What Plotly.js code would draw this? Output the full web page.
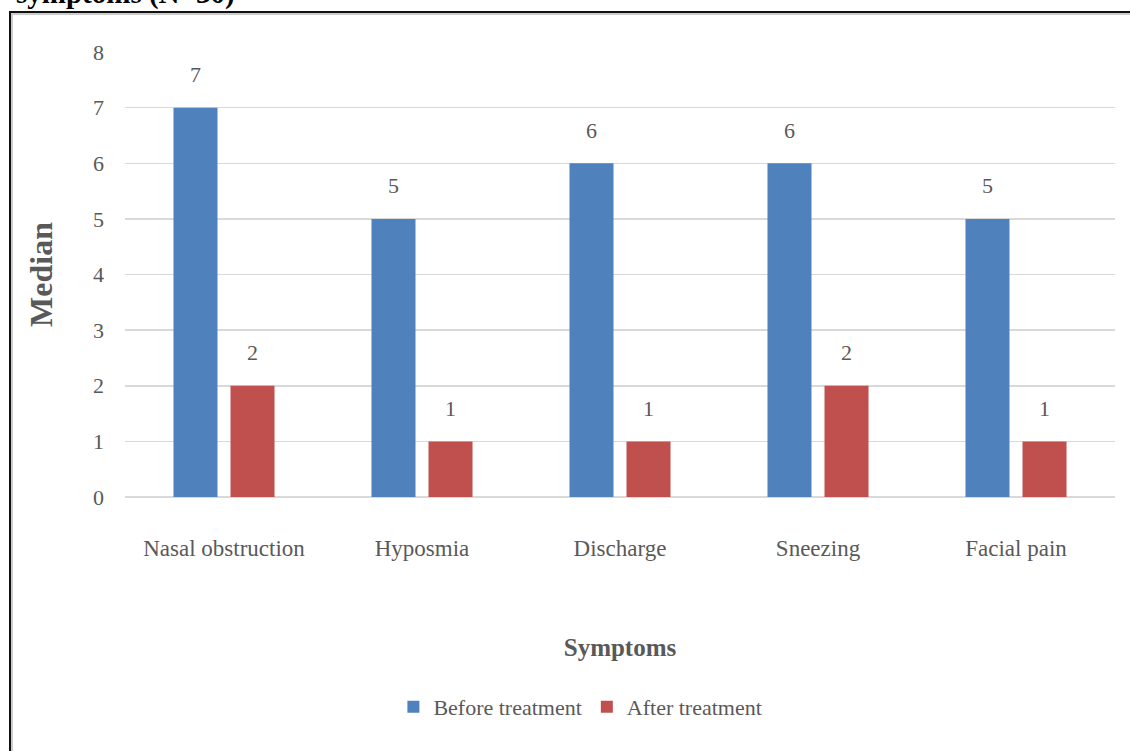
<!DOCTYPE html>
<html>
<head>
<meta charset="utf-8">
<script src="https://cdn.plot.ly/plotly-3.0.1.min.js"></script>
<style>
html,body{margin:0;padding:0;background:#fff;}
#wrap{position:relative;width:1130px;height:751px;overflow:hidden;}
#frame{position:absolute;left:9px;top:11px;width:1200px;height:800px;border-left:2px solid #111;border-top:2px solid #111;box-shadow:inset 2px 2px 0 #ccc;}
#chart{position:absolute;left:0;top:0;width:1130px;height:751px;}
</style>
</head>
<body>
<div id="wrap">
<div id="frame"></div>
<div id="chart"></div>
</div>
<script>
const categories = ["Nasal obstruction", "Hyposmia", "Discharge", "Sneezing", "Facial pain"];
const beforeTreatment = [7, 5, 6, 6, 5];
const afterTreatment = [2, 1, 1, 2, 1];
const seriesNames = ["Before treatment", "After treatment"];
const yTicks = [0, 1, 2, 3, 4, 5, 6, 7, 8];

const fontFam = "Liberation Serif, Times New Roman, serif";
const gray = "#595959";

const traces = [
  {type: "bar", name: seriesNames[0], x: categories, y: beforeTreatment, marker: {color: "#4F81BD"}, hoverinfo: "x+y"},
  {type: "bar", name: seriesNames[1], x: categories, y: afterTreatment, marker: {color: "#C0504D"}, hoverinfo: "x+y"}
];

const annotations = [];
[beforeTreatment, afterTreatment].forEach((arr, si) => {
  arr.forEach((v, i) => {
    annotations.push({
      x: categories[i], y: v, xref: "x", yref: "y",
      text: String(v), showarrow: false,
      xshift: si === 0 ? -28.5 : 28.5, yshift: 33,
      font: {family: fontFam, size: 22, color: gray}
    });
  });
});
annotations.push({
  xref: "paper", yref: "paper", x: -0.126, y: 1.095, xanchor: "left", yanchor: "bottom",
  xshift: 14, yshift: -2,
  text: "<b>symptoms (N=30)</b>", showarrow: false,
  font: {family: fontFam, size: 29, color: "#000"}
});

const layout = {
  width: 1130, height: 751,
  margin: {l: 125, r: 15, t: 52, b: 254},
  paper_bgcolor: "rgba(0,0,0,0)",
  plot_bgcolor: "rgba(0,0,0,0)",
  barmode: "group",
  bargap: 0.424,
  bargroupgap: 0.228,
  showlegend: true,
  legend: {
    orientation: "h", x: 0.46, xanchor: "center", y: -0.472, yanchor: "middle",
    font: {family: fontFam, size: 22, color: gray},
    itemwidth: 30, traceorder: "normal"
  },
  xaxis: {
    type: "category",
    showgrid: false, showline: false, zeroline: false, ticks: "",
    tickfont: {family: fontFam, size: 23, color: gray},
    ticklabelstandoff: 35,
    title: {text: "<b>Symptoms</b>", font: {family: fontFam, size: 25, color: gray}, standoff: 78}
  },
  yaxis: {
    range: [0, 8], tickvals: yTicks, ticktext: yTicks.map(String),
    showgrid: true, gridcolor: "#D9D9D9", gridwidth: 1.5,
    zeroline: true, zerolinecolor: "#D9D9D9", zerolinewidth: 1.5,
    showline: false, ticks: "", ticklabelstandoff: 20,
    tickfont: {family: fontFam, size: 22, color: gray},
    title: {text: "<b>Median</b>", font: {family: fontFam, size: 32, color: gray}, standoff: 30}
  },
  annotations: annotations,
  font: {family: fontFam}
};

Plotly.newPlot("chart", traces, layout, {displayModeBar: false, staticPlot: true});
</script>
</body>
</html>
